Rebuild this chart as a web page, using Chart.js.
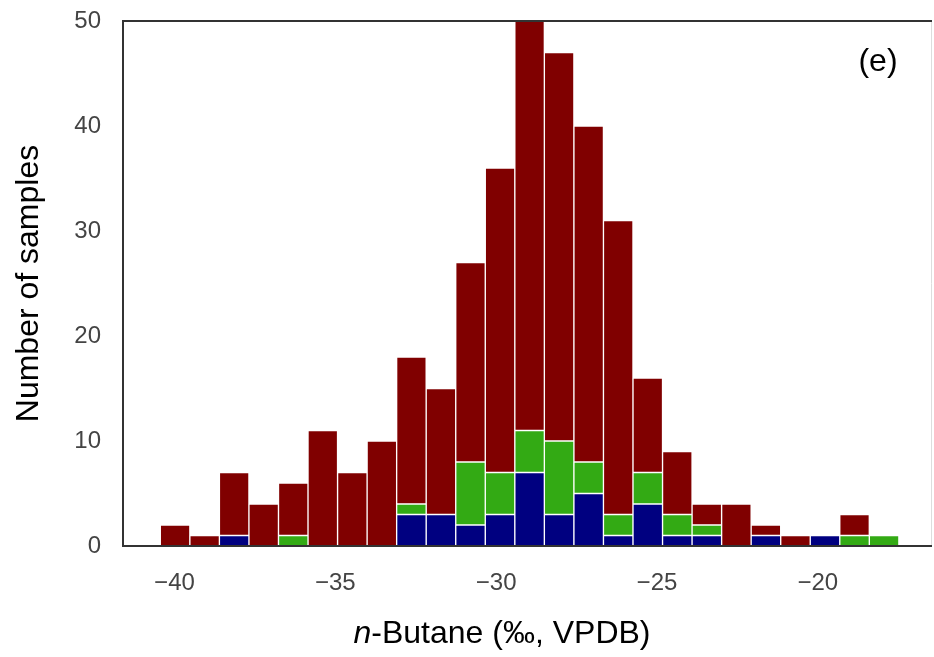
<!DOCTYPE html>
<html>
<head>
<meta charset="utf-8">
<script src="https://cdn.jsdelivr.net/npm/chart.js@4.4.1/dist/chart.umd.min.js"></script>
<style>
  html, body { margin: 0; padding: 0; background: #fff; }
  #wrap { position: relative; width: 934px; height: 657px; overflow: hidden; }
  #xtitle {
    position: absolute; left: 502px; top: 614px; transform: translateX(-50%);
    font-family: "Liberation Sans", Arial, sans-serif; font-size: 32px; line-height: 37px;
    color: #000; white-space: nowrap;
  }
  #panel {
    position: absolute; left: 878px; top: 42px; transform: translateX(-50%);
    font-family: "Liberation Sans", Arial, sans-serif; font-size: 32px; line-height: 37px;
    color: #000;
  }
</style>
</head>
<body>
<div id="wrap">
  <canvas id="MyChart" width="934" height="657"></canvas>
  <div id="xtitle"><i>n</i>-Butane (‰, VPDB)</div>
  <div id="panel">(e)</div>
</div>
<script>
// bin centres (‰), 25 bins
var binCenters = [-39.981, -39.062, -38.144, -37.226, -36.307, -35.389, -34.470, -33.552,
  -32.634, -31.715, -30.797, -29.878, -28.960, -28.042, -27.123, -26.205, -25.286,
  -24.368, -23.450, -22.531, -21.613, -20.694, -19.776, -18.858, -17.939];

// counts per bin for each group (stacked: blue, green, red)
var blueCounts  = [0, 0, 1, 0, 0, 0, 0, 0, 3, 3, 2, 3, 7, 3, 5, 1, 4, 1, 1, 0, 1, 0, 1, 0, 0];
var greenCounts = [0, 0, 0, 0, 1, 0, 0, 0, 1, 0, 6, 4, 4, 7, 3, 2, 3, 2, 1, 0, 0, 0, 0, 1, 1];
var redCounts   = [2, 1, 6, 4, 5, 11, 7, 10, 14, 12, 19, 29, 39, 37, 32, 28, 9, 6, 2, 4, 1, 1, 0, 2, 0];

var xTicks = [-40, -35, -30, -25, -20];
var yTicks = [0, 10, 20, 30, 40, 50];

function pts(counts) {
  var out = [];
  for (var i = 0; i < binCenters.length; i++) {
    out.push({ x: binCenters[i], y: counts[i] });
  }
  return out;
}

function ds(label, counts, color) {
  return {
    label: label,
    data: pts(counts),
    backgroundColor: color,
    borderColor: '#ffffff',
    borderWidth: 1,
    borderSkipped: false,
    barPercentage: 1,
    categoryPercentage: 1
  };
}

// frame round the plot area, drawn over the bars
const frame = {
  id: 'frame',
  afterDatasetsDraw: function (chart) {
    var a = chart.chartArea, ctx = chart.ctx;
    ctx.save();
    ctx.strokeStyle = '#dddddd';
    ctx.lineWidth = 1;
    ctx.beginPath();
    ctx.moveTo(a.right - 0.5, a.top);
    ctx.lineTo(a.right - 0.5, a.bottom);
    ctx.stroke();
    ctx.strokeStyle = '#333333';
    ctx.lineWidth = 2;
    ctx.beginPath();
    ctx.moveTo(a.right, a.top);
    ctx.lineTo(a.left, a.top);
    ctx.lineTo(a.left, a.bottom);
    ctx.lineTo(a.right, a.bottom);
    ctx.stroke();
    ctx.restore();
  }
};

var tickFont = { family: '"Liberation Sans", Arial, sans-serif', size: 24 };

const config = {
  type: 'bar',
  data: {
    datasets: [
      ds('blue', blueCounts, '#000080'),
      ds('green', greenCounts, '#33aa14'),
      ds('red', redCounts, '#800000')
    ]
  },
  options: {
    responsive: false,
    animation: false,
    layout: { padding: { top: 21, right: 2, left: 0, bottom: 0 } },
    plugins: {
      legend: { display: false },
      tooltip: { enabled: false }
    },
    scales: {
      x: {
        type: 'linear',
        stacked: true,
        offset: false,
        min: -41.6,
        max: -16.45,
        afterFit: function (s) { s.height = 111; s.paddingLeft = 0; s.paddingRight = 0; },
        afterBuildTicks: function (s) {
          s.ticks = xTicks.map(function (v) { return { value: v }; });
        },
        grid: { display: false, drawTicks: false },
        border: { display: false },
        ticks: {
          font: tickFont,
          color: '#444444',
          padding: 23,
          maxRotation: 0,
          callback: function (v) { return String(v).replace('-', '\u2212'); }
        }
      },
      y: {
        stacked: true,
        min: 0,
        max: 50,
        afterFit: function (s) { s.width = 123; s.paddingTop = 0; s.paddingBottom = 0; },
        afterBuildTicks: function (s) {
          s.ticks = yTicks.map(function (v) { return { value: v }; });
        },
        grid: { display: false, drawTicks: false },
        border: { display: false },
        ticks: {
          font: tickFont,
          color: '#444444',
          padding: 22
        },
        title: {
          display: true,
          text: 'Number of samples',
          color: '#000',
          font: { family: '"Liberation Sans", Arial, sans-serif', size: 32 },
          padding: { top: 10, bottom: 0 }
        }
      }
    }
  },
  plugins: [frame]
};

const myChart = new Chart(document.getElementById('MyChart'), config);
</script>
</body>
</html>
